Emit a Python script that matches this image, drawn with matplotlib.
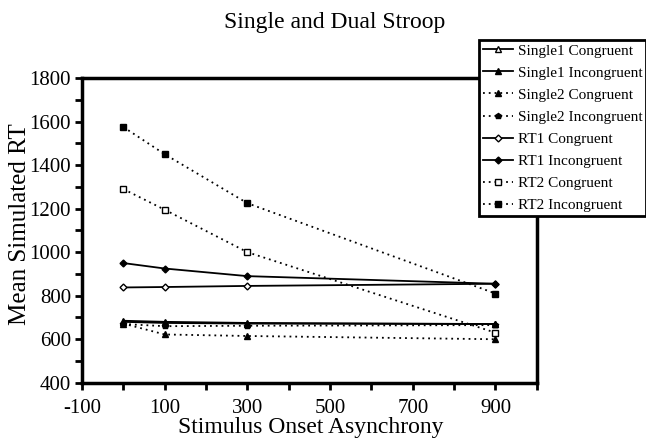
import matplotlib
matplotlib.use("Agg")
import matplotlib.pyplot as plt
from matplotlib.ticker import MultipleLocator

plt.rcParams['font.family'] = ['Liberation Serif', 'DejaVu Serif']
plt.rcParams['axes.unicode_minus'] = False

# SOA values (x) and mean simulated RT per condition
soa = [0, 100, 300, 900]

single1_congruent = [680, 675, 672, 670]
single1_incongruent = [685, 680, 675, 670]
single2_congruent = [672, 622, 615, 600]
single2_incongruent = [670, 660, 662, 665]
rt1_congruent = [838, 840, 845, 855]
rt1_incongruent = [950, 925, 890, 855]
rt2_congruent = [1290, 1195, 1000, 630]
rt2_incongruent = [1575, 1450, 1225, 810]

labels = ["Single1 Congruent", "Single1 Incongruent", "Single2 Congruent",
          "Single2 Incongruent", "RT1 Congruent", "RT1 Incongruent",
          "RT2 Congruent", "RT2 Incongruent"]
series = [single1_congruent, single1_incongruent, single2_congruent,
          single2_incongruent, rt1_congruent, rt1_incongruent,
          rt2_congruent, rt2_incongruent]

# (linestyle, marker, filled)
DOT = (0, (1, 2.2))
styles = [("-", "^", False), ("-", "^", True), (DOT, "^", True), (DOT, "p", True),
          ("-", "D", False), ("-", "D", True), (DOT, "s", False), (DOT, "s", True)]

fig = plt.figure(figsize=(6.46, 4.41), dpi=100)
ax = fig.add_axes([0.127, 0.132, 0.704, 0.691])

for lab, vals, (ls, mk, filled) in zip(labels, series, styles):
    ax.plot(soa, vals, linestyle=ls, marker=mk, color="black",
            linewidth=1.3 if ls == "-" else 1.3,
            markersize=4 if mk != "D" else 3.5,
            markerfacecolor="black" if filled else "white",
            markeredgecolor="black", markeredgewidth=1, label=lab)

ax.set_xlim(-100, 1000)
ax.set_ylim(400, 1800)
ax.set_xticks([-100, 100, 300, 500, 700, 900])
ax.xaxis.set_minor_locator(MultipleLocator(100))
ax.yaxis.set_major_locator(MultipleLocator(200))
ax.yaxis.set_minor_locator(MultipleLocator(100))

for s in ax.spines.values():
    s.set_linewidth(2.5)

ax.tick_params(which="both", direction="out", width=2, length=5, labelsize=15)
ax.tick_params(axis="x", pad=7)
ax.tick_params(axis="y", pad=3)

fig.text(0.518, 0.948, "Single and Dual Stroop", ha="center", va="center", fontsize=17)
fig.text(0.031, 0.492, "Mean Simulated RT", ha="center", va="center",
         rotation=90, fontsize=18)
fig.text(0.481, 0.03, "Stimulus Onset Asynchrony", ha="center", va="center", fontsize=17)

leg = fig.legend(loc="upper left", bbox_to_anchor=(0.741, 0.909),
                 fancybox=False, framealpha=1, edgecolor="black",
                 fontsize=11, handlelength=2.0, handletextpad=0.3,
                 borderpad=0.25, labelspacing=0.55, borderaxespad=0)
leg.get_frame().set_linewidth(2)

fig.savefig("out.png", dpi=100)
